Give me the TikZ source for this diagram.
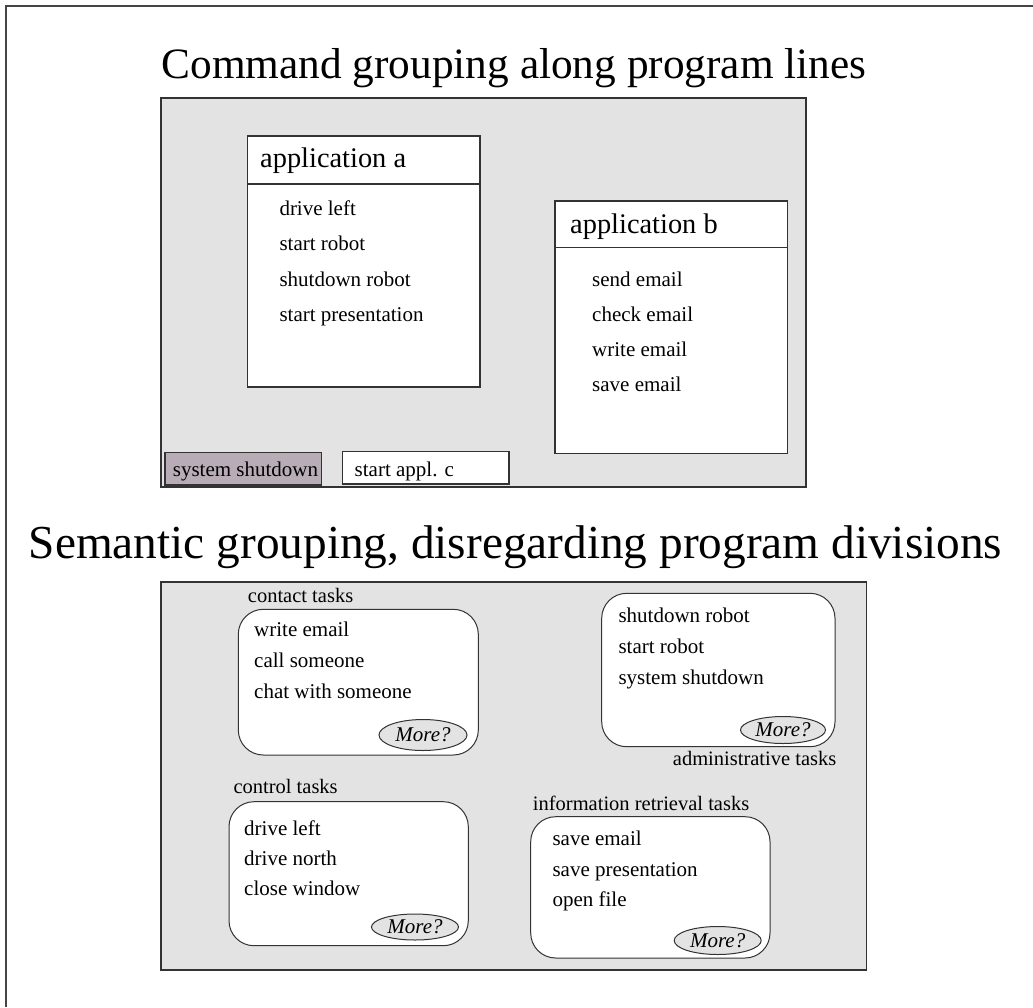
\documentclass[tikz,border=0pt]{standalone}
\usepackage{fontspec}
\setmainfont{Liberation Serif}
\usetikzlibrary{shapes.geometric,calc}

\definecolor{panelgray}{HTML}{E3E3E3}
\definecolor{linecol}{HTML}{333333}
\definecolor{framecol}{HTML}{454545}
\definecolor{mauve}{HTML}{B8ADB7}

\newcommand\itemfs{\fontsize{21}{25}\selectfont}
\newcommand\labelfs{\fontsize{20.5}{24}\selectfont}
\newcommand\headfs{\fontsize{28.4}{33}\selectfont}
\newcommand\titleAfs{\fontsize{43.3}{50}\selectfont}
\newcommand\titleBfs{\fontsize{47.3}{54}\selectfont}

\tikzset{
  panel/.style={draw=linecol, fill=panelgray, line width=1.6pt},
  appbox/.style={draw=linecol, fill=white, line width=1.4pt},
  btnbox/.style={draw=linecol, line width=1.4pt},
  groupbox/.style={draw=linecol, fill=white, line width=1pt, rounded corners=25pt},
  entry/.style={anchor=base west, inner sep=0pt, font=\itemfs},
  grouplabel/.style={anchor=base west, inner sep=0pt, font=\labelfs},
  header/.style={anchor=base west, inner sep=0pt, font=\headfs},
  morebtn/.style={ellipse, draw=linecol, fill=panelgray, line width=1pt,
    inner sep=0pt, font=\itemfs\itshape},
}

\begin{document}
\begin{tikzpicture}[x=1pt, y=-1pt]
\useasboundingbox (0,0) rectangle (1033,1007);
\fill[white] (0,0) rectangle (1033,1007);

% page frame
\draw[framecol, line width=2pt] (6,1007) -- (6,6) -- (1033,6);

% ---------- upper part: grouping by program ----------
\node[anchor=base, inner sep=0pt, font=\titleAfs] (titleA) at (514,78)
  {Command grouping along program lines};
\draw[panel] (161,98) rectangle (806,487);

% application a
\draw[appbox] (247.3,136) rectangle (480,387);
\coordinate (aDivL) at (247.3,184);
\coordinate (aDivR) at (480,184);
\draw[linecol, line width=1.4pt] (aDivL) -- (aDivR);
\node[header] (appA) at (260,167) {application a};
\node[entry] (a1) at (279.3,215) {drive left};
\node[entry] (a2) at (279.3,250) {start robot};
\node[entry] (a3) at (279.3,286) {shutdown robot};
\node[entry] (a4) at (279.3,321) {start presentation};

% application b
\draw[appbox] (555,201) rectangle (787.3,453.3);
\coordinate (bDivL) at (555,247.7);
\coordinate (bDivR) at (787.3,247.7);
\draw[linecol, line width=1.4pt] (bDivL) -- (bDivR);
\node[header] (appB) at (570,233) {application b};
\node[entry] (b1) at (592,286) {send email};
\node[entry] (b2) at (592,321) {check email};
\node[entry] (b3) at (592,356.7) {write email};
\node[entry] (b4) at (592,391.7) {save email};

% loose commands
\draw[btnbox, fill=mauve] (165,452.3) rectangle (321.7,485);
\node[entry] (sysdown) at (172.7,476.7) {system shutdown};
\draw[btnbox, fill=white] (342.3,451.7) rectangle (509,484);
\node[entry] (applc) at (354.5,476.7) {start appl. c};

% ---------- lower part: semantic grouping ----------
\node[anchor=base, inner sep=0pt, font=\titleBfs] (titleB) at (515.5,558)
  {Semantic grouping, disregarding program divisions};
\draw[panel] (161,582) rectangle (866.5,970);

% contact tasks
\draw[groupbox] (238.3,609.3) rectangle (478.3,755);
\node[grouplabel] (contactL) at (247.7,602.7) {contact tasks};
\node[entry] (c1) at (254,636.7) {write email};
\node[entry] (c2) at (254,667.5) {call someone};
\node[entry] (c3) at (254,698.7) {chat with someone};
\node[morebtn, minimum width=88pt, minimum height=31pt] (cMore) at (423,735) {More?};

% administrative tasks
\draw[groupbox] (601.7,593.3) rectangle (835,746.7);
\node[entry] (d1) at (618.3,622.5) {shutdown robot};
\node[entry] (d2) at (618.3,653.5) {start robot};
\node[entry] (d3) at (618.3,684) {system shutdown};
\node[morebtn, minimum width=85pt, minimum height=27pt] (dMore) at (783,730) {More?};
\node[grouplabel] (adminL) at (672.7,765) {administrative tasks};

% control tasks
\draw[groupbox] (229,801.7) rectangle (468.3,945.7);
\node[grouplabel] (controlL) at (233.3,793.3) {control tasks};
\node[entry] (e1) at (244,835) {drive left};
\node[entry] (e2) at (244,865) {drive north};
\node[entry] (e3) at (244,895) {close window};
\node[morebtn, minimum width=87pt, minimum height=26pt] (eMore) at (415,927) {More?};

% information retrieval tasks
\draw[groupbox] (530.7,816.7) rectangle (770,958);
\node[grouplabel] (infoL) at (532.7,810) {information retrieval tasks};
\node[entry] (f1) at (552.3,845) {save email};
\node[entry] (f2) at (552.3,876) {save presentation};
\node[entry] (f3) at (552.3,906.7) {open file};
\node[morebtn, minimum width=87pt, minimum height=28pt] (fMore) at (717.7,940.5) {More?};

\end{tikzpicture}
\end{document}
